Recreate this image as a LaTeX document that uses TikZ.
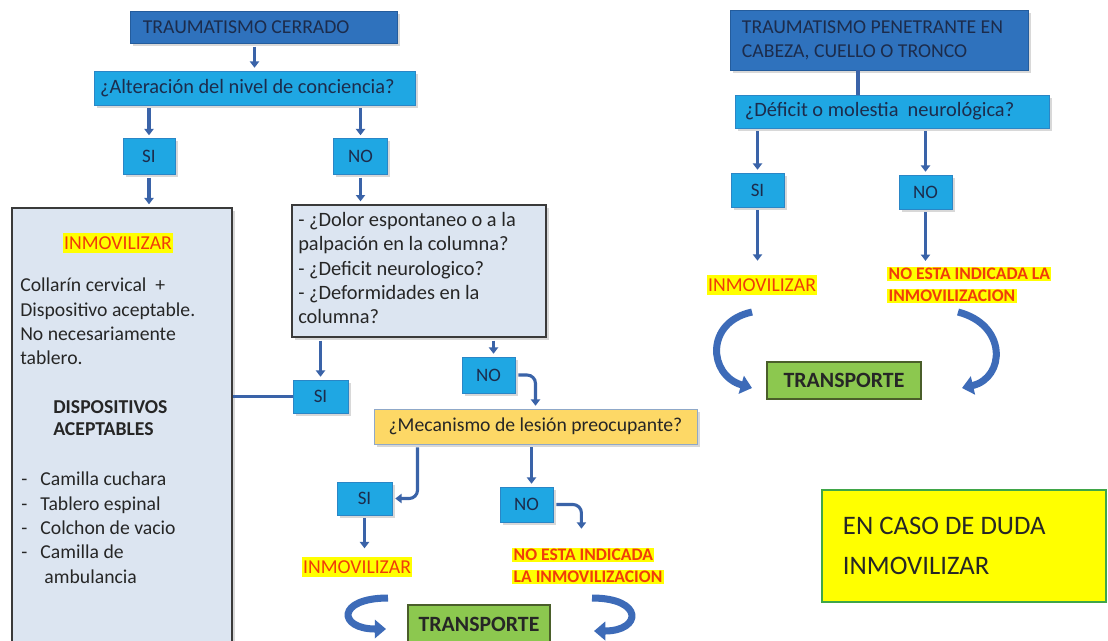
\documentclass[tikz,border=0pt]{standalone}
\usepackage{fontspec}
\setmainfont{Carlito}
\usetikzlibrary{arrows.meta,shadows,calc}
\setlength\fboxsep{1pt}

\definecolor{dblue}{HTML}{2F72BD}
\definecolor{dbord}{HTML}{245C9C}
\definecolor{lblue}{HTML}{1FA7E3}
\definecolor{lbord}{HTML}{2A86C6}
\definecolor{navy}{HTML}{1C2C4C}
\definecolor{arrc}{HTML}{3A63A8}
\definecolor{turnc}{HTML}{3D6BB8}
\definecolor{grayf}{HTML}{DCE5F1}
\definecolor{darkb}{HTML}{3A3A3A}
\definecolor{mecf}{HTML}{FDD866}
\definecolor{mecb}{HTML}{8FA8C8}
\definecolor{greenf}{HTML}{8CC84F}
\definecolor{greenb}{HTML}{4A5E2A}
\definecolor{hlyel}{HTML}{FFFF00}
\definecolor{redt}{HTML}{F03C0A}
\definecolor{dudab}{HTML}{3FA648}

\tikzset{
  base/.style={draw=lbord, fill=lblue, line width=.6pt, text=navy, inner sep=0pt,
    font=\fontsize{14}{17}\selectfont},
  bx/.style={base, drop shadow={shadow xshift=2pt,shadow yshift=-2pt,opacity=.3}},
  hdr/.style={bx, fill=dblue, draw=dbord, align=flush left},
  yn/.style={bx, font=\fontsize{13.5}{15}\selectfont, minimum width=1.35cm, minimum height=.9cm},
  pale/.style={bx, fill=grayf, draw=darkb, line width=1.2pt},
  transp/.style={base, fill=greenf, draw=greenb, line width=1pt, text=black!85,
    font=\fontsize{15.5}{18}\selectfont\bfseries},
  hl/.style={fill=hlyel, text=redt, inner xsep=1pt, inner ysep=2.5pt, font=\fontsize{14}{17}\selectfont},
  hltwo/.style={text=redt, inner sep=0pt, align=left, font=\fontsize{12.5}{15.6}\selectfont\bfseries},
  txt/.style={inner sep=0pt, align=left, text=black!85, font=\fontsize{14}{17.3}\selectfont},
  arr/.style={draw=arrc, line width=2.2pt, -{Triangle[width=6.5pt,length=4.5pt]},
    shorten <=2pt, shorten >=2pt},
  lnk/.style={draw=arrc, line width=2.6pt},
  elbow/.style={arr, rounded corners=6pt},
  turn/.style={draw=turnc, line width=5pt, -{Triangle[width=13pt,length=8pt]}}
}

\begin{document}
\begin{tikzpicture}[x=0.025cm,y=-0.025cm]
\clip (0,0) rectangle (1108,640);
\fill[white] (0,0) rectangle (1108,640);

\node[hdr, text width=6.03cm, inner xsep=.32cm, minimum height=.8cm] (tc) at (263.5,27.5) {TRAUMATISMO CERRADO};
\node[bx, align=flush left, text width=7.72cm, inner xsep=.15cm, minimum height=.85cm, font=\fontsize{14.5}{17}\selectfont] (alt) at (254.5,88) {¿Alteración del nivel de conciencia?};
\node[yn, minimum width=1.3cm] (si1) at (149,156.5) {SI};
\node[yn] (no1) at (360.5,156.5) {NO};

\node[pale, minimum width=5.5cm, minimum height=11.05cm] (big) at (122,429) {};
\node[hl] (inm1) at (118,243) {INMOVILIZAR};
\node[txt, anchor=north west] (collar) at (20,278) {Collarín cervical\ \ +\\Dispositivo aceptable.\\No necesariamente\\tablero.};
\node[txt, anchor=north west, font=\fontsize{14}{16.1}\selectfont\bfseries] (disp) at (53,400) {DISPOSITIVOS\\ACEPTABLES};
\node[txt, anchor=north west] (lista) at (21,472) {\makebox[.48cm][l]{-}Camilla cuchara\\\makebox[.48cm][l]{-}Tablero espinal\\\makebox[.48cm][l]{-}Colchon de vacio\\\makebox[.48cm][l]{-}Camilla de\\\hspace*{.58cm}ambulancia};

\node[pale, minimum width=6.35cm, minimum height=3.3cm] (q) at (419,271) {};
\node[txt, anchor=north west, font=\fontsize{14.5}{17.3}\selectfont] (qt) at (298,212) {- ¿Dolor espontaneo o a la\\palpación en la columna?\\- ¿Deficit neurologico?\\- ¿Deformidades en la\\columna?};

\node[yn, minimum width=1.375cm, minimum height=.825cm] (si2) at (320.5,396.5) {SI};
\node[yn, minimum width=1.325cm] (no2) at (488.5,375) {NO};
\node[bx, fill=mecf, draw=mecb, minimum width=8.075cm, minimum height=.875cm, text=black!85] (mec) at (535.5,426.5) {¿Mecanismo de lesión preocupante?};
\node[yn, minimum width=1.375cm, minimum height=.825cm] (si3) at (364.5,498.5) {SI};
\node[yn, minimum width=1.325cm, minimum height=.875cm] (no3) at (526.5,504.5) {NO};
\node[hl] (inm3) at (357,567) {INMOVILIZAR};
\node[hltwo, anchor=west] (noind3) at (512,566) {\colorbox{hlyel}{NO ESTA INDICADA}\\\colorbox{hlyel}{LA INMOVILIZACION}};
\node[transp, minimum width=3.55cm, minimum height=.95cm] (tr1) at (479,624) {TRANSPORTE};

\node[hdr, text width=6.85cm, inner xsep=.3cm, minimum height=1.5cm] (tp) at (879,40) {TRAUMATISMO PENETRANTE EN\\CABEZA, CUELLO O TRONCO};
\node[bx, align=flush left, text width=7.35cm, inner xsep=.25cm, minimum height=.825cm, font=\fontsize{14.5}{17}\selectfont] (def) at (892,111.5) {¿Déficit o molestia\ \ neurológica?};
\node[yn, minimum width=1.325cm, minimum height=.85cm] (si4) at (757.5,190) {SI};
\node[yn, minimum width=1.325cm, minimum height=.85cm] (no4) at (925.5,192) {NO};
\node[hl] (inm4) at (762,285) {INMOVILIZAR};
\node[hltwo, anchor=west] (noind4) at (887,285) {\colorbox{hlyel}{NO ESTA INDICADA LA}\\\colorbox{hlyel}{INMOVILIZACION}};
\node[transp, minimum width=3.85cm, minimum height=.925cm] (tr2) at (844,380.5) {TRANSPORTE};

\node[draw=dudab, fill=hlyel, line width=1.2pt, align=flush left, text width=6.05cm, inner xsep=.525cm, inner ysep=0pt, minimum height=2.8cm, text=black!85, font=\fontsize{19}{28.4}\selectfont] (duda) at (964,546) {EN CASO DE DUDA\\INMOVILIZAR};

\draw[arr] (tc.south -| alt.north) -- (alt.north);
\draw[arr] (alt.south -| si1.north) -- (si1.north);
\draw[arr] (alt.south -| no1.north) -- (no1.north);
\draw[arr] (si1.south) -- (si1.south |- big.north);
\draw[arr] (no1.south) -- (no1.south |- q.north);
\draw[arr] (q.south -| si2.north) -- (si2.north);
\draw[arr] ($(q.south -| no2.north)+(5,0)$) -- ($(no2.north)+(5,0)$);
\draw[lnk] (big.east |- si2.west) -- (si2.west);
\draw[elbow] (no2.east) -| (mec.north);
\draw[elbow] ($(mec.south west)+(44,0)$) |- (si3.east);
\draw[arr] ($(mec.south -| no3.north)+(5,0)$) -- ($(no3.north)+(5,0)$);
\draw[elbow] (no3.east) -| ($(no3.east)+(28,27)$);
\draw[arr, shorten >=6pt] (si3.south) -- (si3.south |- inm3.north);

\draw[lnk, line width=2.2pt] ($(tp.south)+(-21,0)$) -- ($(def.north)+(-34,0)$);
\draw[arr] (def.south -| si4.north) -- (si4.north);
\draw[arr] (def.south -| no4.north) -- (no4.north);
\draw[arr, shorten >=10pt] (si4.south) -- (si4.south |- inm4.north);
\draw[arr, shorten >=4pt] (no4.south) -- (no4.south |- noind4.north);

\coordinate (ta1) at (388,598);
\coordinate (ta2) at (386,629);
\coordinate (tb1) at (592,598);
\coordinate (tb2) at (594,631);
\coordinate (tc1) at (752,312);
\coordinate (tc2) at (752,388);
\coordinate (td1) at (958,312);
\coordinate (td2) at (962,388);
\draw[turn] (ta1) .. controls (336,598) and (338,629) .. (ta2);
\draw[turn] (tb1) .. controls (644,598) and (642,631) .. (tb2);
\draw[turn] (tc1) .. controls (705,322) and (708,375) .. (tc2);
\draw[turn] (td1) .. controls (1008,325) and (1005,378) .. (td2);
\end{tikzpicture}
\end{document}
